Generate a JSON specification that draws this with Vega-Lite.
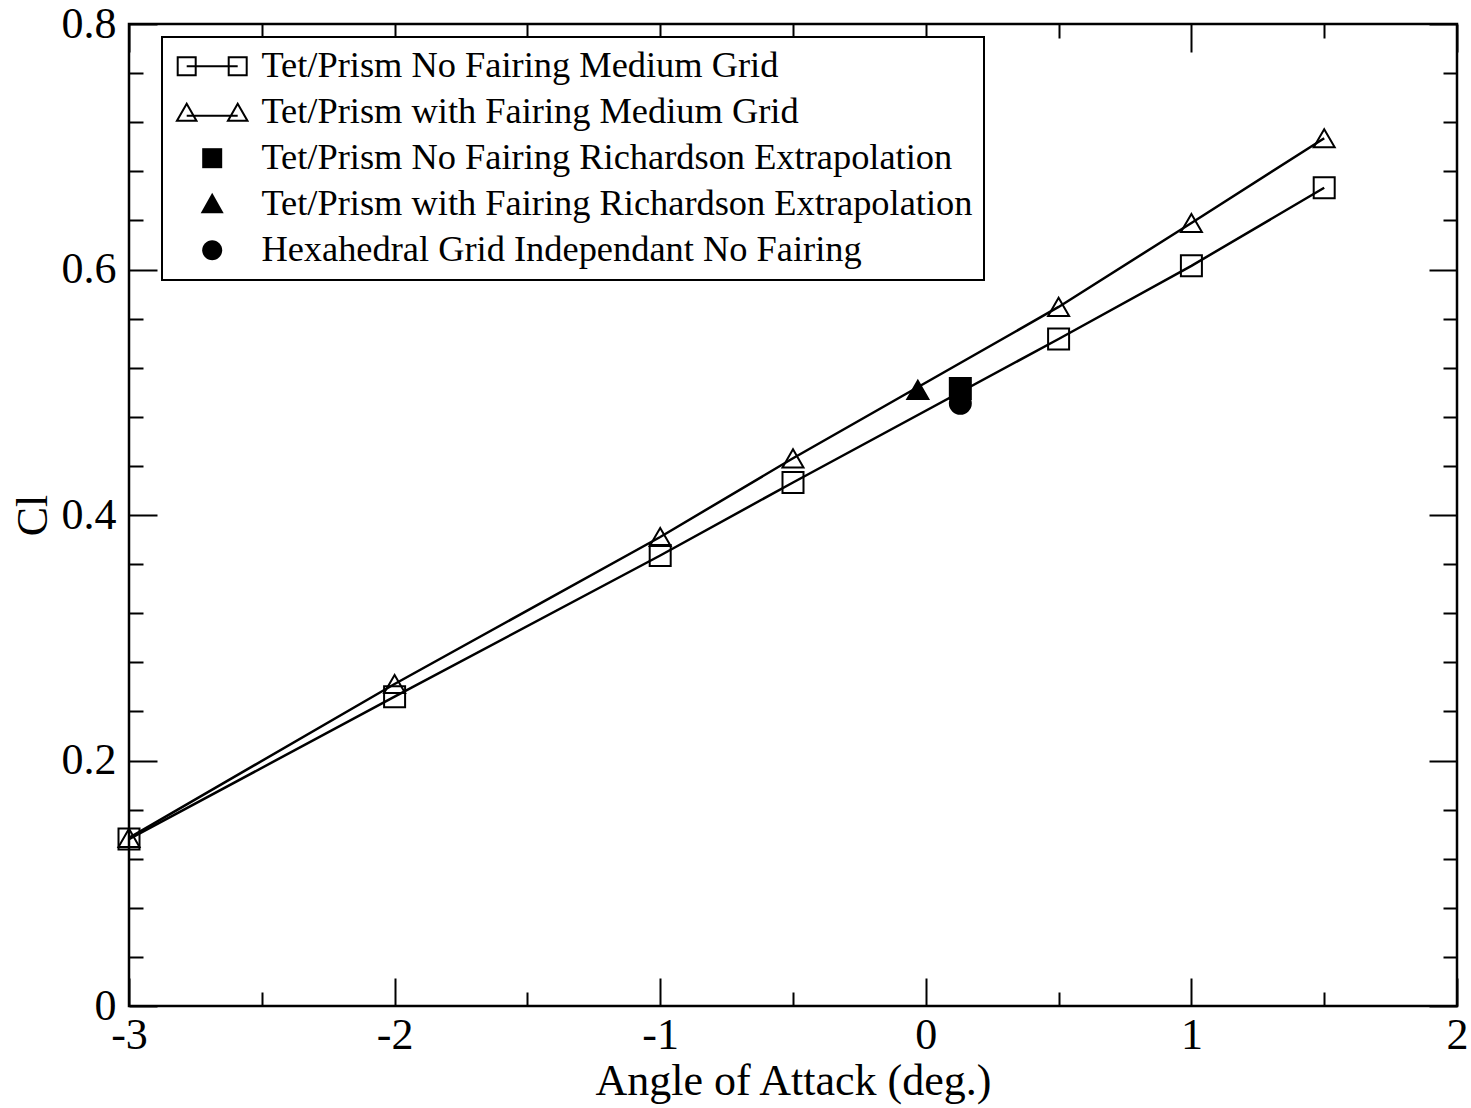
{
  "$schema": "https://vega.github.io/schema/vega-lite/v6.json",
  "width": 1328,
  "height": 982,
  "autosize": "none",
  "padding": {"left": 129, "top": 24, "right": 14, "bottom": 102},
  "background": "white",
  "config": {
    "font": "Liberation Serif",
    "view": {"stroke": "black", "strokeWidth": 2.5},
    "axis": {"domain": false, "grid": false, "labelFlush": false, "tickColor": "black", "tickWidth": 2, "labelColor": "black", "titleColor": "black", "labelFont": "Liberation Serif", "titleFont": "Liberation Serif", "labelFontSize": 44, "titleFontSize": 44, "titleFontWeight": "normal"},
    "legend": {"strokeColor": "black", "strokeWidth": 2, "fillColor": "white", "padding": 11, "cornerRadius": 0}
  },
  "data": {
    "values": [
      {"series": "Tet/Prism No Fairing Medium Grid", "aoa": -3, "cl": 0.136},
      {"series": "Tet/Prism No Fairing Medium Grid", "aoa": -2, "cl": 0.252},
      {"series": "Tet/Prism No Fairing Medium Grid", "aoa": -1, "cl": 0.367},
      {"series": "Tet/Prism No Fairing Medium Grid", "aoa": -0.5, "cl": 0.4265},
      {"series": "Tet/Prism No Fairing Medium Grid", "aoa": 0.5, "cl": 0.5434},
      {"series": "Tet/Prism No Fairing Medium Grid", "aoa": 1, "cl": 0.603},
      {"series": "Tet/Prism No Fairing Medium Grid", "aoa": 1.5, "cl": 0.6666},
      {"series": "Tet/Prism with Fairing Medium Grid", "aoa": -3, "cl": 0.137},
      {"series": "Tet/Prism with Fairing Medium Grid", "aoa": -2, "cl": 0.2623},
      {"series": "Tet/Prism with Fairing Medium Grid", "aoa": -1, "cl": 0.3821},
      {"series": "Tet/Prism with Fairing Medium Grid", "aoa": -0.5, "cl": 0.4462},
      {"series": "Tet/Prism with Fairing Medium Grid", "aoa": 0.5, "cl": 0.5695},
      {"series": "Tet/Prism with Fairing Medium Grid", "aoa": 1, "cl": 0.6379},
      {"series": "Tet/Prism with Fairing Medium Grid", "aoa": 1.5, "cl": 0.7069},
      {"series": "Tet/Prism No Fairing Richardson Extrapolation", "aoa": 0.13, "cl": 0.503},
      {"series": "Tet/Prism with Fairing Richardson Extrapolation", "aoa": -0.03, "cl": 0.502},
      {"series": "Hexahedral Grid Independant No Fairing", "aoa": 0.13, "cl": 0.491}
    ]
  },
  "layer": [
    {
      "transform": [{"filter": "indexof(datum.series, 'Medium Grid') >= 0"}],
      "mark": {"type": "line", "stroke": "black", "strokeWidth": 2.5},
      "encoding": {
        "x": {"field": "aoa", "type": "quantitative", "scale": {"domain": [-3, 2], "nice": false, "zero": false},
              "axis": {"orient": "bottom", "title": "Angle of Attack (deg.)", "values": [-3, -2, -1, 0, 1, 2], "labelExpr": "'' + datum.value", "tickSize": -28, "labelPadding": 35, "titlePadding": 2}},
        "y": {"field": "cl", "type": "quantitative", "scale": {"domain": [0, 0.8], "nice": false, "zero": false},
              "axis": {"orient": "left", "title": "Cl", "values": [0, 0.2, 0.4, 0.6, 0.8], "labelExpr": "datum.value == 0 ? '0' : format(datum.value, '.1f')", "tickSize": -28, "labelPadding": 41, "titlePadding": 6}},
        "detail": {"field": "series"},
        "order": {"field": "aoa", "type": "quantitative"}
      }
    },
    {
      "mark": {"type": "point", "stroke": "black", "strokeWidth": 2, "size": 441, "opacity": 1},
      "encoding": {
        "x": {"field": "aoa", "type": "quantitative", "axis": {"orient": "top", "title": null, "labels": false, "values": [-3, -2, -1, 0, 1, 2], "tickSize": -28}},
        "y": {"field": "cl", "type": "quantitative", "axis": {"orient": "right", "title": null, "labels": false, "values": [0, 0.2, 0.4, 0.6, 0.8], "tickSize": -28}},
        "shape": {"field": "series", "type": "nominal", "legend": null,
                  "scale": {"domain": ["Tet/Prism No Fairing Medium Grid", "Tet/Prism with Fairing Medium Grid", "Tet/Prism No Fairing Richardson Extrapolation", "Tet/Prism with Fairing Richardson Extrapolation", "Hexahedral Grid Independant No Fairing"],
                            "range": ["square", "triangle-up", "square", "triangle-up", "circle"]}},
        "fill": {"field": "series", "type": "nominal", "legend": null,
                 "scale": {"domain": ["Tet/Prism No Fairing Medium Grid", "Tet/Prism with Fairing Medium Grid", "Tet/Prism No Fairing Richardson Extrapolation", "Tet/Prism with Fairing Richardson Extrapolation", "Hexahedral Grid Independant No Fairing"],
                           "range": ["transparent", "transparent", "black", "black", "black"]}}
      }
    },
    {
      "mark": {"type": "point", "filled": true, "fill": "black", "opacity": 0},
      "encoding": {
        "x": {"field": "aoa", "type": "quantitative", "axis": {"orient": "bottom", "title": null, "labels": false, "values": [-2.5, -1.5, -0.5, 0.5, 1.5], "tickSize": -14}},
        "y": {"field": "cl", "type": "quantitative", "axis": {"orient": "left", "title": null, "labels": false, "values": [0.04, 0.08, 0.12, 0.16, 0.24, 0.28, 0.32, 0.36, 0.44, 0.48, 0.52, 0.56, 0.64, 0.68, 0.72, 0.76], "tickSize": -14}},
        "shape": {"field": "series", "type": "nominal",
                  "scale": {"domain": ["Tet/Prism No Fairing Medium Grid", "Tet/Prism with Fairing Medium Grid", "Tet/Prism No Fairing Richardson Extrapolation", "Tet/Prism with Fairing Richardson Extrapolation", "Hexahedral Grid Independant No Fairing"],
                            "range": [
                              "M-1.45,-1H0.55V1H-1.45Z M-1.25,-0.8V0.8H0.35V-0.8Z M-0.45,-0.1H4.65V0.1H-0.45Z M3.65,-1H5.65V1H3.65Z M3.85,-0.8V0.8H5.45V-0.8Z",
                              "M-0.45,-1.05L0.7,0.95L-1.6,0.95Z M-0.45,-0.65L-1.25,0.75L0.35,0.75Z M-0.45,0.25H4.65V0.45H-0.45Z M4.65,-1.05L5.8,0.95L3.5,0.95Z M4.65,-0.65L3.85,0.75L5.45,0.75Z",
                              "M1.1,-1H3.1V1H1.1Z",
                              "M2.1,-1.15L3.25,0.9L0.95,0.9Z",
                              "M3.1,0A1,1,0,1,1,1.1,0A1,1,0,1,1,3.1,0Z"
                            ]},
                  "legend": {"title": null, "orient": "none", "legendX": 33, "legendY": 13, "symbolSize": 400, "symbolOpacity": 1, "symbolFillColor": "black", "symbolStrokeColor": "black", "symbolStrokeWidth": 0, "labelFont": "Liberation Serif", "labelFontSize": 36.4, "labelColor": "black", "labelLimit": 0, "labelOffset": 52, "rowPadding": 9}}
      }
    },
    {
      "mark": {"type": "point", "opacity": 0},
      "encoding": {
        "x": {"field": "aoa", "type": "quantitative", "axis": {"orient": "top", "title": null, "labels": false, "values": [-2.5, -1.5, -0.5, 0.5, 1.5], "tickSize": -14}},
        "y": {"field": "cl", "type": "quantitative", "axis": {"orient": "right", "title": null, "labels": false, "values": [0.04, 0.08, 0.12, 0.16, 0.24, 0.28, 0.32, 0.36, 0.44, 0.48, 0.52, 0.56, 0.64, 0.68, 0.72, 0.76], "tickSize": -14}}
      }
    }
  ],
  "resolve": {
    "scale": {"shape": "independent", "fill": "independent"},
    "axis": {"x": "independent", "y": "independent"}
  }
}
